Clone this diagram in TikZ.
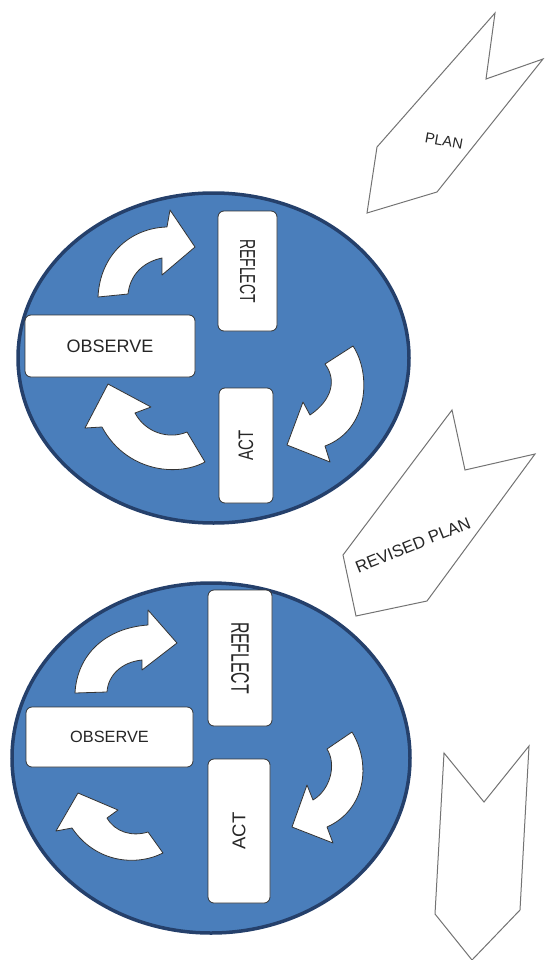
\documentclass[tikz,border=0pt]{standalone}
\usepackage{graphicx}
\usepackage{fontspec}
\setmainfont{Liberation Sans}
\definecolor{discfill}{RGB}{74,126,187}
\definecolor{discedge}{RGB}{37,64,107}
\newcommand{\txt}[2]{{\fontsize{#1}{#1}\selectfont #2}}

\begin{document}
\begin{tikzpicture}[x=1pt,y=-1pt,
		loopdisc/.style={fill=discfill,draw=discedge,line width=3.5pt},
		stagebox/.style={draw=black!80,fill=white,line width=0.8pt,rounded corners=6pt,inner sep=0pt,text=black!85},
		turnarrow/.style={draw=black!80,fill=white,line width=0.8pt,line join=round},
		planarrow/.style={draw=black!55,fill=white,line width=1pt},
		plantext/.style={inner sep=0pt,text=black!85}]
		\useasboundingbox (0,0) rectangle (544,960);
		% first cycle
		\draw[loopdisc] (213.5,358) ellipse [x radius=195.5, y radius=165];
		\node[stagebox,rotate=-90,minimum width=120pt,minimum height=59pt] (reflA) at (247.5,271) {\scalebox{1}[1.55]{\txt{14}{REFLECT}}};
		\node[stagebox,minimum width=170pt,minimum height=62pt] (obsA) at (110,346) {\txt{18}{OBSERVE}};
		\node[stagebox,rotate=90,minimum width=115pt,minimum height=54pt] (actA) at (246,445.5) {\scalebox{1}[1.4]{\txt{15}{ACT}}};
		\draw[turnarrow] (98,297) -- (128,294) .. controls (130,275) and (143,262) .. (162,258) -- (162,275) -- (195,247) -- (170,210) -- (167,227) .. controls (130,228) and (100,255) .. (98,297) -- cycle;
		\draw[turnarrow] (353,346) .. controls (372,375) and (368,430) .. (325,446) -- (330,462) -- (287,445) -- (303,402) -- (310,415) .. controls (332,400) and (337,380) .. (325,364) -- cycle;
		\draw[turnarrow] (108,384) -- (151,407) -- (135,413) .. controls (145,432) and (168,440) .. (187,432) -- (205,462) .. controls (175,478) and (125,470) .. (102,427) -- (85,428) -- cycle;
		% second cycle
		\draw[loopdisc] (211,758) ellipse [x radius=199, y radius=175];
		\node[stagebox,rotate=-90,minimum width=136pt,minimum height=64pt] (reflB) at (240,658) {\scalebox{1}[1.6]{\txt{15.8}{REFLECT}}};
		\node[stagebox,minimum width=167pt,minimum height=60pt] (obsB) at (109.5,737) {\txt{16.3}{OBSERVE}};
		\node[stagebox,rotate=90,minimum width=144pt,minimum height=62pt] (actB) at (239,831) {\txt{18.5}{ACT}};
		\draw[turnarrow] (75,693) -- (107,692) .. controls (108,675) and (122,662) .. (142,660) -- (142,670) -- (177,643) -- (148,610) -- (148,625) .. controls (105,628) and (77,655) .. (75,693) -- cycle;
		\draw[turnarrow] (352,732) .. controls (372,765) and (365,810) .. (327,827) -- (333,843) -- (292,827) -- (307,785) -- (313,800) .. controls (330,790) and (337,765) .. (327,749) -- cycle;
		\draw[turnarrow] (78,793) -- (118,810) -- (107,818) .. controls (115,832) and (132,837) .. (148,832) -- (163,853) .. controls (135,867) and (95,862) .. (72,828) -- (56,831) -- cycle;
		% plan chevrons
		\draw[planarrow] (495,13) -- (486,79) -- (543,59) -- (437,192) -- (367,213) -- (377,147) -- cycle;
		\node[plantext,rotate=-10] (plan) at (444,141) {\txt{14.6}{PLAN}};
		\draw[planarrow] (452,410) -- (465,470) -- (535,454) -- (427,601) -- (356,616) -- (343,555) -- cycle;
		\node[plantext,rotate=22] (revplan) at (413,545) {\txt{16.8}{REVISED PLAN}};
		\draw[planarrow] (444,753) -- (484,802) -- (529,746) -- (520,910) -- (472,960) -- (435,914) -- cycle;
	\end{tikzpicture}
\end{document}
